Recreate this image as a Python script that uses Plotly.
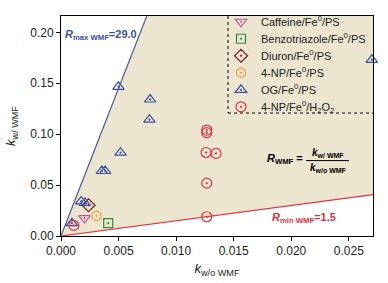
import plotly.graph_objects as go

# ---------------- data ----------------
caffeine_x = [0.00204]
caffeine_y = [0.0176]
benzo_x = [0.0041]
benzo_y = [0.0126]
diuron_x = [0.00239]
diuron_y = [0.0302]
np_ps_x = [0.00308]
np_ps_y = [0.0198]
og_x = [0.00095, 0.00175, 0.00207, 0.00355, 0.00384, 0.00517, 0.00499, 0.00768, 0.00774, 0.0270]
og_y = [0.0126, 0.0340, 0.0324, 0.0638, 0.0638, 0.0818, 0.1465, 0.1142, 0.1340, 0.1730]
np_h2o2_x = [0.00112, 0.01266, 0.01266, 0.01260, 0.01347, 0.01266, 0.01266]
np_h2o2_y = [0.0104, 0.1040, 0.1015, 0.0820, 0.0811, 0.0519, 0.0189]

r_max = 29.0
r_min = 1.5
x_range = [0, 0.0271]
y_range = [0, 0.216]
x_ticks = [0, 0.005, 0.010, 0.015, 0.020, 0.025]
y_ticks = [0, 0.05, 0.10, 0.15, 0.20]

FONT = "Liberation Sans, Arial, sans-serif"
BEIGE = "rgb(236,229,207)"
BLUE = "#3B4FA0"
RED = "#E2303F"

fig = go.Figure()

# shaded region between the two ratio lines
xm, ym = x_range[1], y_range[1]
fig.add_trace(go.Scatter(
    x=[0, ym / r_max, xm, xm, 0],
    y=[0, ym, ym, r_min * xm, 0],
    fill="toself", fillcolor=BEIGE, line=dict(width=0),
    mode="lines", showlegend=False, hoverinfo="skip"))
# ratio lines
fig.add_trace(go.Scatter(x=[0, ym / r_max], y=[0, ym], mode="lines",
                         line=dict(color="#4A5A9E", width=1.2), showlegend=False))
fig.add_trace(go.Scatter(x=[0, xm], y=[0, r_min * xm], mode="lines",
                         line=dict(color=RED, width=1.2), showlegend=False))

series = [
    ("Caffeine/Fe<sup>0</sup>/PS", caffeine_x, caffeine_y, "triangle-down-open-dot", "#C0569E", 10),
    ("Benzotriazole/Fe<sup>0</sup>/PS", benzo_x, benzo_y, "square-open-dot", "#2E8B3C", 9),
    ("Diuron/Fe<sup>0</sup>/PS", diuron_x, diuron_y, "diamond-open-dot", "#7A1E22", 10),
    ("4-NP/Fe<sup>0</sup>/PS", np_ps_x, np_ps_y, "hexagon-open-dot", "#F2A040", 10),
    ("OG/Fe<sup>0</sup>/PS", og_x, og_y, "triangle-up-open-dot", BLUE, 10),
    ("4-NP/Fe<sup>0</sup>/H<sub>2</sub>O<sub>2</sub>", np_h2o2_x, np_h2o2_y, "circle-open-dot", RED, 10),
]
legend_ids = ["legend", "legend2", "legend3", "legend4", "legend5", "legend6"]
for (name, xs, ys, sym, col, sz), lid in zip(series, legend_ids):
    fig.add_trace(go.Scatter(
        x=xs, y=ys, mode="markers", name=name, cliponaxis=False, legend=lid,
        marker=dict(symbol=sym, size=sz, color=col, line=dict(width=1.2, color=col))))

L, R, T, B = 61, 373, 7, 236
W, H = 388, 283


def px(xp):
    return (xp - L) / (R - L)


def py(yp):
    return (B - yp) / (B - T)


annotations = [
    dict(x=px(63), y=py(27), xanchor="left", yanchor="middle",
         text="<b><i>R</i><sub>max WMF</sub>=29.0</b>",
         font=dict(color=BLUE, size=11, family=FONT)),
    dict(x=px(270), y=py(217), xanchor="left", yanchor="middle",
         text="<b><i>R</i><sub>min WMF</sub>=1.5</b>",
         font=dict(color=RED, size=11, family=FONT)),
    dict(x=px(305), y=py(156), xanchor="right", yanchor="middle",
         text="<b><i>R</i><sub>WMF</sub> =</b>",
         font=dict(color="black", size=11, family=FONT)),
    dict(x=px(328), y=py(150), xanchor="center", yanchor="middle",
         text="<b><i>k</i><sub>w/ WMF</sub></b>",
         font=dict(color="black", size=10, family=FONT)),
    dict(x=px(328), y=py(165), xanchor="center", yanchor="middle",
         text="<b><i>k</i><sub>w/o WMF</sub></b>",
         font=dict(color="black", size=10, family=FONT)),
]
for a in annotations:
    a.update(xref="paper", yref="paper", showarrow=False)

shapes = [
    dict(type="line", xref="paper", yref="paper", x0=px(306), x1=px(349),
         y0=py(157.5), y1=py(157.5), line=dict(color="black", width=1)),
    dict(type="line", xref="paper", yref="paper", x0=px(228), x1=px(228),
         y0=1, y1=py(108), line=dict(color="black", width=1, dash="dot")),
    dict(type="line", xref="paper", yref="paper", x0=px(228), x1=1,
         y0=py(108), y1=py(108), line=dict(color="black", width=1, dash="dot")),
]

legend_rows = [13.0, 30.7, 48.4, 66.1, 83.8, 101.5]
legend_layout = {}
for lid, row in zip(legend_ids, legend_rows):
    legend_layout[lid] = dict(x=px(221), y=py(row), xanchor="left", yanchor="middle",
                              bgcolor="rgba(0,0,0,0)", borderwidth=0,
                              font=dict(size=11, family=FONT, color="#222"))

fig.update_layout(
    width=W, height=H,
    margin=dict(l=L, r=W - R, t=T, b=H - B),
    paper_bgcolor="white", plot_bgcolor="white",
    font=dict(family=FONT, size=12, color="#222"),
    annotations=annotations, shapes=shapes,
    xaxis=dict(range=x_range, tickvals=x_ticks, tickformat=".3f",
               showgrid=False, zeroline=False, showline=True, linecolor="black",
               linewidth=1, mirror=True, ticks="outside", ticklen=4,
               tickcolor="black", tickfont=dict(size=12),
               title=dict(text="<i>k</i><sub>w/o WMF</sub>", font=dict(size=13), standoff=6)),
    yaxis=dict(range=y_range, tickvals=y_ticks, tickformat=".2f",
               showgrid=False, zeroline=False, showline=True, linecolor="black",
               linewidth=1, mirror=True, ticks="outside", ticklen=4,
               tickcolor="black", tickfont=dict(size=12),
               title=dict(text="<i>k</i><sub>w/ WMF</sub>", font=dict(size=13), standoff=11)),
    **legend_layout,
)

fig.write_html("out.html", config={"displayModeBar": False},
               post_script="document.body.style.margin='0';")
